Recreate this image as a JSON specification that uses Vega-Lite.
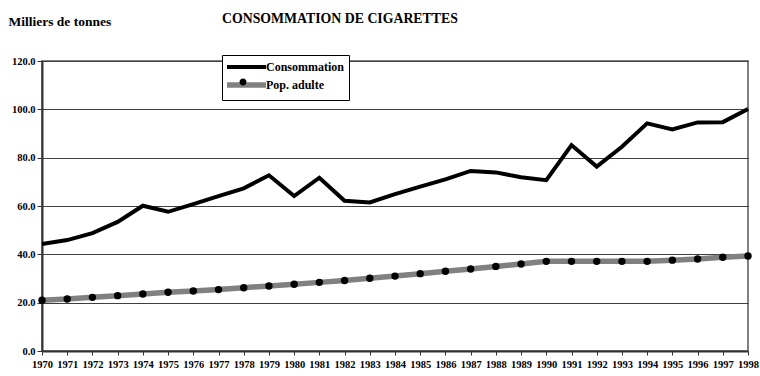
{
  "$schema": "https://vega.github.io/schema/vega-lite/v6.json",
  "autosize": "none",
  "width": 706,
  "height": 290,
  "padding": {"left": 42, "top": 61, "right": 12, "bottom": 25},
  "background": "white",
  "title": {
    "text": "CONSOMMATION DE CIGARETTES",
    "anchor": "start",
    "frame": "group",
    "dx": 180,
    "offset": -23,
    "baseline": "alphabetic",
    "font": "Liberation Serif",
    "fontSize": 13.8,
    "fontWeight": "bold",
    "color": "black"
  },
  "config": {
    "view": {"stroke": "#808080", "strokeWidth": 2},
    "font": "Liberation Serif"
  },
  "data": {
    "values": [
      {"year": 1970, "serie": "Consommation", "value": 44.3},
      {"year": 1971, "serie": "Consommation", "value": 45.9},
      {"year": 1972, "serie": "Consommation", "value": 48.8},
      {"year": 1973, "serie": "Consommation", "value": 53.4},
      {"year": 1974, "serie": "Consommation", "value": 60.1},
      {"year": 1975, "serie": "Consommation", "value": 57.6},
      {"year": 1976, "serie": "Consommation", "value": 60.8},
      {"year": 1977, "serie": "Consommation", "value": 64.1},
      {"year": 1978, "serie": "Consommation", "value": 67.3},
      {"year": 1979, "serie": "Consommation", "value": 72.7},
      {"year": 1980, "serie": "Consommation", "value": 64.1},
      {"year": 1981, "serie": "Consommation", "value": 71.7},
      {"year": 1982, "serie": "Consommation", "value": 62.2},
      {"year": 1983, "serie": "Consommation", "value": 61.5},
      {"year": 1984, "serie": "Consommation", "value": 64.9},
      {"year": 1985, "serie": "Consommation", "value": 68.0},
      {"year": 1986, "serie": "Consommation", "value": 71.0},
      {"year": 1987, "serie": "Consommation", "value": 74.5},
      {"year": 1988, "serie": "Consommation", "value": 73.9},
      {"year": 1989, "serie": "Consommation", "value": 71.9},
      {"year": 1990, "serie": "Consommation", "value": 70.7},
      {"year": 1991, "serie": "Consommation", "value": 85.2},
      {"year": 1992, "serie": "Consommation", "value": 76.3},
      {"year": 1993, "serie": "Consommation", "value": 84.5},
      {"year": 1994, "serie": "Consommation", "value": 94.2},
      {"year": 1995, "serie": "Consommation", "value": 91.7},
      {"year": 1996, "serie": "Consommation", "value": 94.6},
      {"year": 1997, "serie": "Consommation", "value": 94.7},
      {"year": 1998, "serie": "Consommation", "value": 100.1},
      {"year": 1970, "serie": "Pop. adulte", "value": 21.0},
      {"year": 1971, "serie": "Pop. adulte", "value": 21.5},
      {"year": 1972, "serie": "Pop. adulte", "value": 22.2},
      {"year": 1973, "serie": "Pop. adulte", "value": 22.9},
      {"year": 1974, "serie": "Pop. adulte", "value": 23.6},
      {"year": 1975, "serie": "Pop. adulte", "value": 24.3},
      {"year": 1976, "serie": "Pop. adulte", "value": 24.8},
      {"year": 1977, "serie": "Pop. adulte", "value": 25.4},
      {"year": 1978, "serie": "Pop. adulte", "value": 26.2},
      {"year": 1979, "serie": "Pop. adulte", "value": 26.9},
      {"year": 1980, "serie": "Pop. adulte", "value": 27.6},
      {"year": 1981, "serie": "Pop. adulte", "value": 28.4},
      {"year": 1982, "serie": "Pop. adulte", "value": 29.2},
      {"year": 1983, "serie": "Pop. adulte", "value": 30.1},
      {"year": 1984, "serie": "Pop. adulte", "value": 31.0},
      {"year": 1985, "serie": "Pop. adulte", "value": 32.0},
      {"year": 1986, "serie": "Pop. adulte", "value": 33.0},
      {"year": 1987, "serie": "Pop. adulte", "value": 33.9},
      {"year": 1988, "serie": "Pop. adulte", "value": 35.0},
      {"year": 1989, "serie": "Pop. adulte", "value": 36.0},
      {"year": 1990, "serie": "Pop. adulte", "value": 37.1},
      {"year": 1991, "serie": "Pop. adulte", "value": 37.1},
      {"year": 1992, "serie": "Pop. adulte", "value": 37.1},
      {"year": 1993, "serie": "Pop. adulte", "value": 37.1},
      {"year": 1994, "serie": "Pop. adulte", "value": 37.1},
      {"year": 1995, "serie": "Pop. adulte", "value": 37.6},
      {"year": 1996, "serie": "Pop. adulte", "value": 38.1},
      {"year": 1997, "serie": "Pop. adulte", "value": 38.8},
      {"year": 1998, "serie": "Pop. adulte", "value": 39.3}
    ]
  },
  "encoding": {
    "x": {
      "field": "year",
      "type": "ordinal",
      "scale": {"type": "point", "padding": 0},
      "axis": {
        "title": null,
        "labelAngle": 0,
        "labelFont": "Liberation Serif",
        "labelFontSize": 10.5,
        "labelFontWeight": "bold",
        "labelColor": "black",
        "labelPadding": 4,
        "tickSize": 4,
        "tickColor": "#333333",
        "domainColor": "#333333",
        "domainWidth": 2,
        "grid": false
      }
    },
    "y": {
      "field": "value",
      "type": "quantitative",
      "scale": {"domain": [0, 120], "nice": false},
      "axis": {
        "values": [0, 20, 40, 60, 80, 100, 120],
        "format": ".1f",
        "title": "Milliers de tonnes",
        "titleAngle": 0,
        "titleAlign": "left",
        "titleBaseline": "alphabetic",
        "titleX": -34,
        "titleY": -36,
        "titleFont": "Liberation Serif",
        "titleFontSize": 13.5,
        "titleFontWeight": "bold",
        "titleColor": "black",
        "labelFont": "Liberation Serif",
        "labelFontSize": 10.5,
        "labelFontWeight": "bold",
        "labelColor": "black",
        "labelPadding": 2,
        "tickSize": 5,
        "tickColor": "#333333",
        "domainColor": "#333333",
        "domainWidth": 2,
        "grid": true,
        "gridColor": "#404040",
        "gridWidth": 1,
        "gridOpacity": 1
      }
    }
  },
  "layer": [
    {
      "mark": {"type": "line", "strokeJoin": "miter"},
      "encoding": {
        "color": {
          "field": "serie",
          "type": "nominal",
          "scale": {"domain": ["Consommation", "Pop. adulte"], "range": ["black", "#808080"]},
          "legend": {
            "orient": "none",
            "legendX": 180,
            "legendY": -6,
            "title": null,
            "strokeColor": "black",
            "fillColor": "white",
            "padding": 4,
            "symbolType": "M-1.33,0L5.17,0",
            "symbolSize": 144,
            "symbolStrokeWidth": 4,
            "labelFont": "Liberation Serif",
            "labelFontSize": 12,
            "labelFontWeight": "bold",
            "labelColor": "black",
            "labelOffset": 22,
            "rowPadding": -1,
            "encode": {
              "symbols": {
                "update": {
                  "strokeWidth": {"signal": "datum.value === 'Pop. adulte' ? 5 : 4"}
                }
              }
            }
          }
        },
        "strokeWidth": {
          "field": "serie",
          "type": "nominal",
          "scale": {"domain": ["Consommation", "Pop. adulte"], "range": [4, 5.5]},
          "legend": null
        }
      }
    },
    {
      "transform": [{"filter": "datum.serie === 'Pop. adulte'"}],
      "mark": {"type": "point", "filled": true, "size": 55, "opacity": 1, "strokeWidth": 0},
      "encoding": {
        "fill": {
          "datum": "Pop. adulte",
          "type": "nominal",
          "scale": {"range": ["black"]},
          "legend": {
            "orient": "none",
            "legendX": 180,
            "legendY": 11,
            "title": null,
            "padding": 4,
            "symbolType": "M1.25,0A0.58,0.58 0 1,1 2.41,0A0.58,0.58 0 1,1 1.25,0Z",
            "symbolSize": 144,
            "symbolStrokeWidth": 0,
            "symbolOpacity": 1,
            "labelExpr": "''",
            "labelOffset": 22,
            "labelFontSize": 12,
            "labelFontWeight": "bold",
            "labelFont": "Liberation Serif",
            "rowPadding": 0
          }
        }
      }
    }
  ]
}
